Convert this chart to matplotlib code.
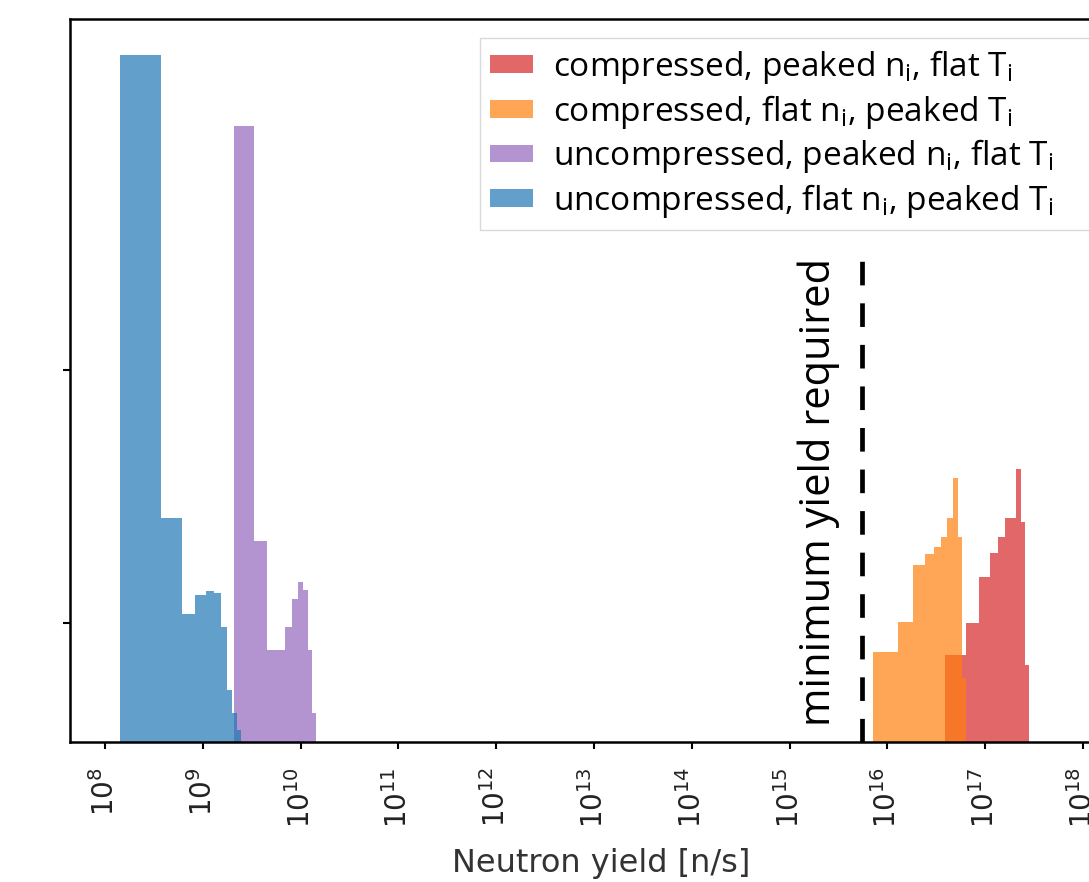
import matplotlib.pyplot as plt
import numpy as np

# runs, in plotting order (legend order too)
labels = [r'compressed, peaked n$_\mathregular{i}$, flat T$_\mathregular{i}$',
          r'compressed, flat n$_\mathregular{i}$, peaked T$_\mathregular{i}$',
          r'uncompressed, peaked n$_\mathregular{i}$, flat T$_\mathregular{i}$',
          r'uncompressed, flat n$_\mathregular{i}$, peaked T$_\mathregular{i}$']
colors = ['tab:red', 'tab:orange', 'tab:purple', 'tab:blue']

# log10 of smallest / largest yield of each run (histogram range, 10 linear bins)
log_lo = [16.589, 15.853, 9.319, 8.153]
log_hi = [17.448, 16.804, 10.157, 9.391]

# counts per bin
counts_red = [87, 119, 165, 189, 205, 224, 224, 273, 220, 77]
counts_orange = [90, 120, 177, 188, 195, 205, 224, 264, 205, 64]
counts_purple = [616, 201, 92, 92, 115, 143, 160, 152, 92, 29]
counts_blue = [687, 224, 128, 147, 151, 149, 115, 52, 29, 12]
counts = [counts_red, counts_orange, counts_purple, counts_blue]

min_yield = 5.5e15
min_yield_top = 492

plt.rcParams['font.family'] = 'DejaVu Sans'

fig = plt.figure(figsize=(10.89, 8.82), dpi=100)
ax = fig.add_axes([70/1089, 140/882, 1062/1089, 723/882])

for lo, hi, c, col, lab in zip(log_lo, log_hi, counts, colors, labels):
    edges = np.linspace(10**lo, 10**hi, 11)
    ax.hist(edges[:-1], bins=edges, weights=c, color=col, alpha=0.7, label=lab)

ax.plot([min_yield, min_yield], [0, min_yield_top], color='black', lw=3.4,
        dashes=(5.0, 3.8))
ax.text(min_yield / 2.75, 0.5 * min_yield_top + 4, 'minimum yield required',
        rotation=90, ha='center', va='center', fontsize=30, family='Open Sans')

ax.set_xscale('log')
ax.set_xlim(10**7.642, 10**18.5)
ax.set_ylim(0, 723)
ax.set_xticks([10.0**k for k in range(8, 19)])
ax.minorticks_off()
ax.set_yticks([119, 372])
ax.set_yticklabels([])
ax.tick_params(axis='x', labelrotation=90, labelsize=20, length=5, width=1.5,
               pad=13, labelcolor='#222222')
ax.tick_params(axis='y', length=5, width=1.5)
for s in ax.spines.values():
    s.set_linewidth(1.8)
ax.set_xlabel('Neutron yield [n/s]', fontsize=23, color='#333333', labelpad=14)

leg = ax.legend(loc='upper left', bbox_to_anchor=(410/1062, 1 - 19/723, 0.6, 0.0),
                mode='expand',
                prop={'family': 'Open Sans', 'size': 24}, handlelength=1.3,
                handleheight=0.45, handletextpad=0.6, labelspacing=0.2,
                borderpad=0.3, borderaxespad=0,
                frameon=True, fancybox=False, edgecolor='#d0d0d0')

fig.savefig('out.png', dpi=100)
